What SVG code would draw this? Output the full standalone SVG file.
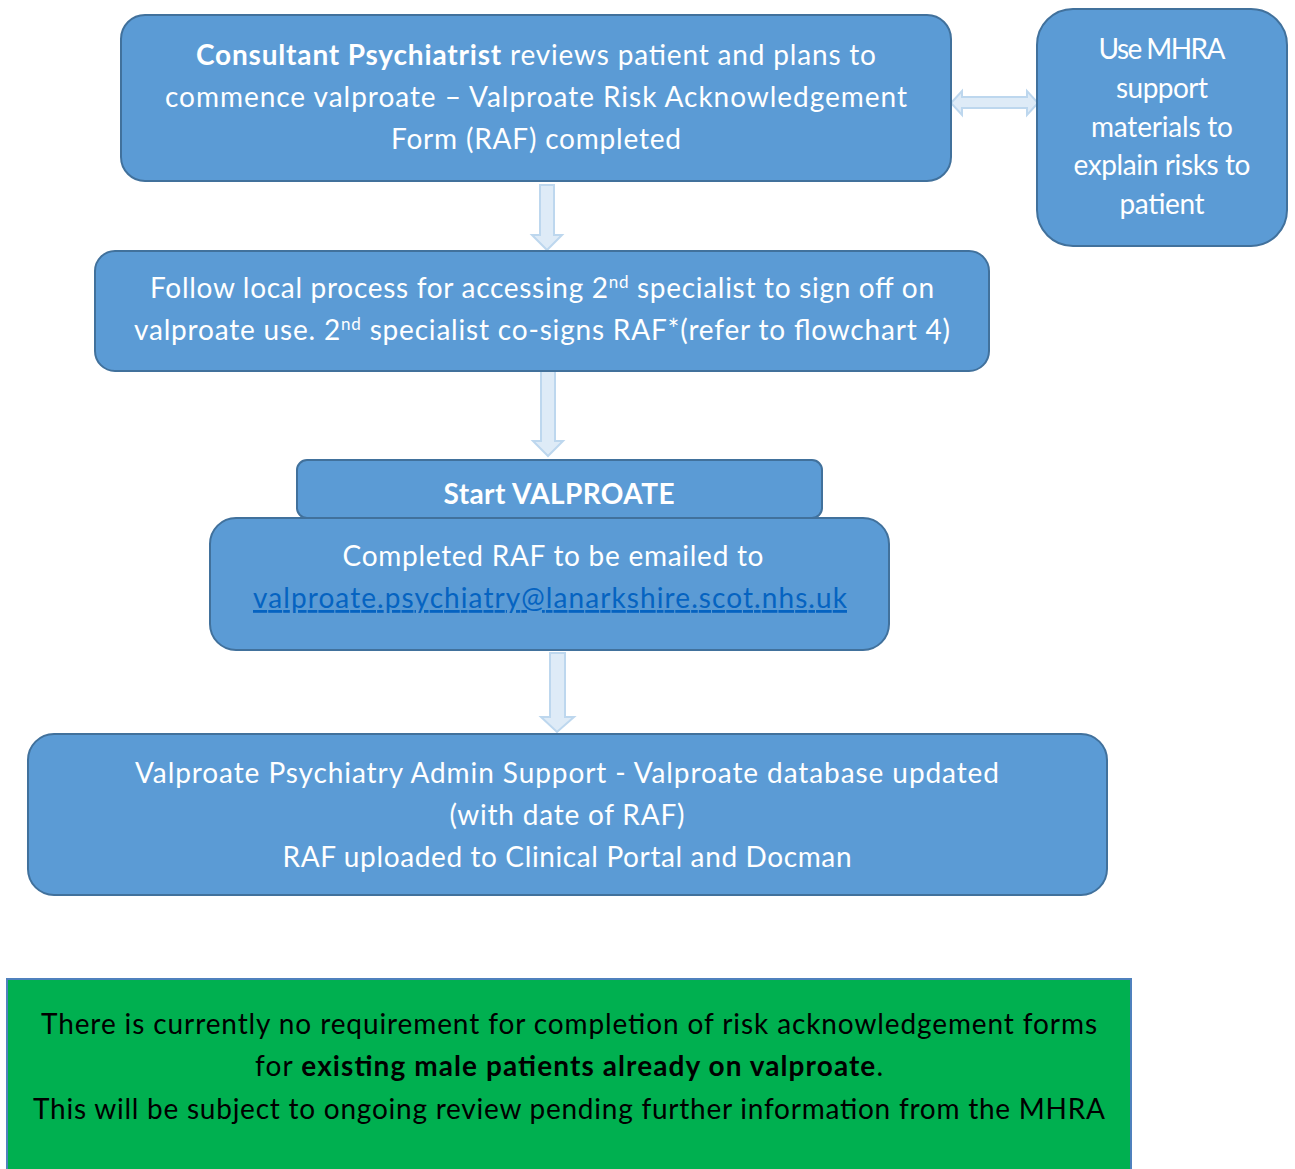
<svg xmlns="http://www.w3.org/2000/svg" width="1295" height="1169" viewBox="0 0 1295 1169">
<style>
.box{fill:#5B9BD5;stroke:#41719C;stroke-width:2}
.arr{fill:#DEEBF7;stroke:#BDD7EE;stroke-width:2;stroke-linejoin:miter}
text{font-family:Lato,"Open Sans","Liberation Sans",sans-serif;font-size:28px;text-anchor:middle}
.w{fill:#FFFFFF}
.k{fill:#000000}
.b{font-weight:bold}
.sup{font-size:17px}
.link{fill:#0563C1;text-decoration:underline}
</style>
<rect width="1295" height="1169" fill="#FFFFFF"/>
<g id="connectors">
<path class="arr" d="M540,185 L554,185 L554,235 L562,235 L547,250 L532,235 L540,235 Z"/>
<path class="arr" d="M541,371 L555,371 L555,441 L563,441 L548,456 L533,441 L541,441 Z"/>
<path class="arr" d="M550,653 L565,653 L565,717 L574,717 L557,732 L541,717 L550,717 Z"/>
<path class="arr" d="M951,103 L962,91 L962,97 L1027,97 L1027,91 L1038,103 L1027,115 L1027,108 L962,108 L962,115 Z"/>
</g>
<g id="node-consultant">
<rect class="box" x="121" y="15" width="830" height="166" rx="24"/>
<text class="w" x="536" y="65" textLength="680"><tspan class="b">Consultant Psychiatrist</tspan> reviews patient and plans to</text>
<text class="w" x="536" y="107" textLength="742">commence valproate – Valproate Risk Acknowledgement</text>
<text class="w" x="536" y="149" textLength="290">Form (RAF) completed</text>
</g>
<g id="node-mhra">
<rect class="box" x="1037" y="9" width="250" height="237" rx="36"/>
<text class="w" x="1162" y="59" textLength="127">Use MHRA</text>
<text class="w" x="1162" y="98" textLength="92">support</text>
<text class="w" x="1162" y="137" textLength="142">materials to</text>
<text class="w" x="1162" y="175" textLength="177">explain risks to</text>
<text class="w" x="1162" y="214" textLength="85">patient</text>
</g>
<g id="node-second-specialist">
<rect class="box" x="95" y="251" width="894" height="120" rx="20"/>
<text class="w" x="542" y="298" textLength="784">Follow local process for accessing 2<tspan class="sup" dy="-10">nd</tspan><tspan dy="10"> specialist to sign off on</tspan></text>
<text class="w" x="542" y="340" textLength="816">valproate use. 2<tspan class="sup" dy="-10">nd</tspan><tspan dy="10"> specialist co-signs RAF*(refer to flowchart 4)</tspan></text>
</g>
<g id="node-start">
<rect class="box" x="297" y="460" width="525" height="58" rx="10"/>
<text class="w b" x="559" y="504" textLength="231">Start VALPROATE</text>
</g>
<g id="node-email">
<rect class="box" x="210" y="518" width="679" height="132" rx="26"/>
<text class="w" x="553" y="566" textLength="421">Completed RAF to be emailed to</text>
<text class="link" x="550" y="608" textLength="594">valproate.psychiatry@lanarkshire.scot.nhs.uk</text>
</g>
<g id="node-admin">
<rect class="box" x="28" y="734" width="1079" height="161" rx="26"/>
<text class="w" x="567" y="783" textLength="864">Valproate Psychiatry Admin Support - Valproate database updated</text>
<text class="w" x="567" y="825" textLength="235">(with date of RAF)</text>
<text class="w" x="567" y="867" textLength="569">RAF uploaded to Clinical Portal and Docman</text>
</g>
<g id="node-note">
<rect x="7" y="979" width="1124" height="200" fill="#00B050" stroke="#4F81BD" stroke-width="2"/>
<text class="k" x="569" y="1034" textLength="1056">There is currently no requirement for completion of risk acknowledgement forms</text>
<text class="k" x="569" y="1076" textLength="628">for <tspan class="b">existing male patients already on valproate</tspan>.</text>
<text class="k" x="569" y="1119" textLength="1072">This will be subject to ongoing review pending further information from the MHRA</text>
</g>
</svg>
